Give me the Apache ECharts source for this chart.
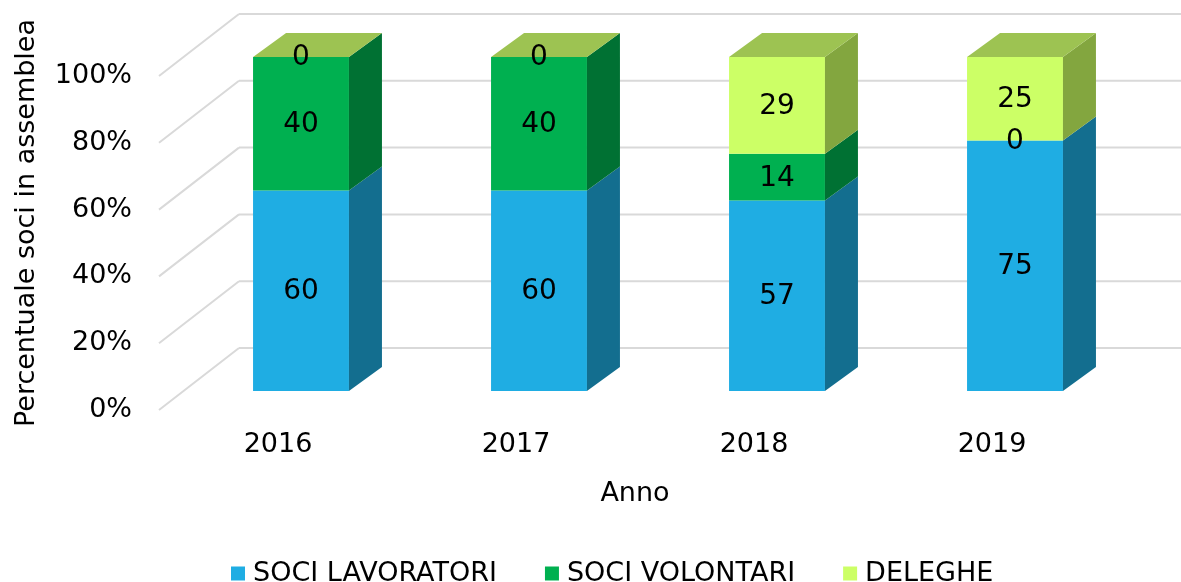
<!DOCTYPE html>
<html>
<head>
<meta charset="utf-8">
<script src="https://cdn.jsdelivr.net/npm/echarts@6/dist/echarts.min.js"></script>
<style>html,body{margin:0;padding:0;background:#fff}#c{width:1181px;height:582px}</style>
</head>
<body>
<div id="c"></div>
<script>
const categories = ['2016', '2017', '2018', '2019'];
const sociLavoratori = [60, 60, 57, 75];
const sociVolontari = [40, 40, 14, 0];
const deleghe = [0, 0, 29, 25];
const yTicks = [0, 20, 40, 60, 80, 100];
const seriesNames = ['SOCI LAVORATORI', 'SOCI VOLONTARI', 'DELEGHE'];

const FONT = 'DejaVu Sans';
const FX = 23, FY = -19;   // bar front-face offset from floor front
const BX = 56, BY = -43;   // bar back-face offset
const WX = 80, WY = -62;   // back wall offset
const BAR_RATIO = 0.403;

const palette = [
  { front: '#1FADE3', side: '#136E8F' },
  { front: '#00B050', side: '#007133' },
  { front: '#CCFF66', side: '#83A63F' }
];
const topColor = '#9DC352';

const layers = [sociLavoratori, sociVolontari, deleghe];
const bases = layers.map((arr, k) => arr.map((_, i) => {
  let s = 0; for (let j = 0; j < k; j++) s += layers[j][i]; return s;
}));

function barRenderer(k, isTop) {
  return function (params, api) {
    const i = api.value(0), b = api.value(1), v = api.value(2);
    const p0 = api.coord([i, b]);
    const p1 = api.coord([i, b + v]);
    const W = api.size([1, 0])[0] * BAR_RATIO;
    const xl = p0[0] + FX - W / 2, xr = p0[0] + FX + W / 2;
    const yb = p0[1] + FY, yt = p1[1] + FY;
    const dx = BX - FX, dy = BY - FY;
    const children = [
      { type: 'rect', shape: { x: xl, y: yt, width: W, height: yb - yt }, style: { fill: palette[k].front } },
      { type: 'polygon', shape: { points: [[xr, yb], [xr + dx, yb + dy], [xr + dx, yt + dy], [xr, yt]] }, style: { fill: palette[k].side } }
    ];
    if (isTop) {
      children.push({ type: 'polygon', shape: { points: [[xl, yt], [xr, yt], [xr + dx, yt + dy], [xl + dx, yt + dy]] }, style: { fill: topColor } });
    }
    children.push({
      type: 'text', z2: 100,
      style: { text: String(v), x: xl + W / 2, y: (yt + yb) / 2 + 1, align: 'center', verticalAlign: 'middle',
               font: '28px "' + FONT + '"', fill: '#000' }
    });
    return { type: 'group', children: children };
  };
}

function wallRenderer(params, api) {
  const t = api.value(1);
  const p = api.coord([0, t]);
  const x0 = params.coordSys.x;
  const st = { stroke: '#D9D9D9', lineWidth: 2, fill: null };
  return {
    type: 'group', children: [
      { type: 'line', shape: { x1: x0, y1: p[1], x2: x0 + WX, y2: p[1] + WY }, style: st },
      { type: 'line', shape: { x1: x0 + WX, y1: p[1] + WY, x2: api.getWidth(), y2: p[1] + WY }, style: st }
    ]
  };
}

const series = [{
  name: 'wall', type: 'custom', silent: true, z: 1,
  renderItem: wallRenderer,
  encode: { x: 0, y: 1 },
  data: yTicks.map(t => [0, t])
}];
layers.forEach((arr, k) => {
  series.push({
    name: seriesNames[k], type: 'custom', z: 2,
    itemStyle: { color: palette[k].front },
    renderItem: barRenderer(k, k === layers.length - 1),
    encode: { x: 0, y: [1, 2] },
    data: arr.map((v, i) => [i, bases[k][i], v])
  });
});

const chart = echarts.init(document.getElementById('c'), null, { renderer: 'canvas' });
chart.setOption({
  animation: false,
  textStyle: { fontFamily: FONT },
  grid: { left: 159, right: 70, top: 76, bottom: 172, containLabel: false },
  legend: {
    data: seriesNames, left: 226, top: 555, icon: 'rect', itemWidth: 14, itemHeight: 14, itemGap: 48,
    textStyle: { fontSize: 27, color: '#000', fontFamily: FONT, padding: [0, 0, 0, 3] }
  },
  xAxis: {
    type: 'category', data: categories,
    name: 'Anno', nameLocation: 'middle', nameGap: 70,
    nameTextStyle: { fontSize: 27, color: '#000', fontFamily: FONT },
    axisLine: { show: false }, axisTick: { show: false }, splitLine: { show: false },
    axisLabel: { fontSize: 27, color: '#000', margin: 21, fontFamily: FONT }
  },
  yAxis: {
    type: 'value', min: 0, max: 100, interval: 20,
    name: 'Percentuale soci in assemblea', nameLocation: 'middle', nameGap: 119,
    nameTextStyle: { fontSize: 27, color: '#000', fontFamily: FONT, padding: [0, 0, 0, 40] },
    axisLine: { show: false }, axisTick: { show: false }, splitLine: { show: false },
    axisLabel: { fontSize: 27, color: '#000', margin: 27, formatter: '{value}%', fontFamily: FONT }
  },
  series: series
});
</script>
</body>
</html>
